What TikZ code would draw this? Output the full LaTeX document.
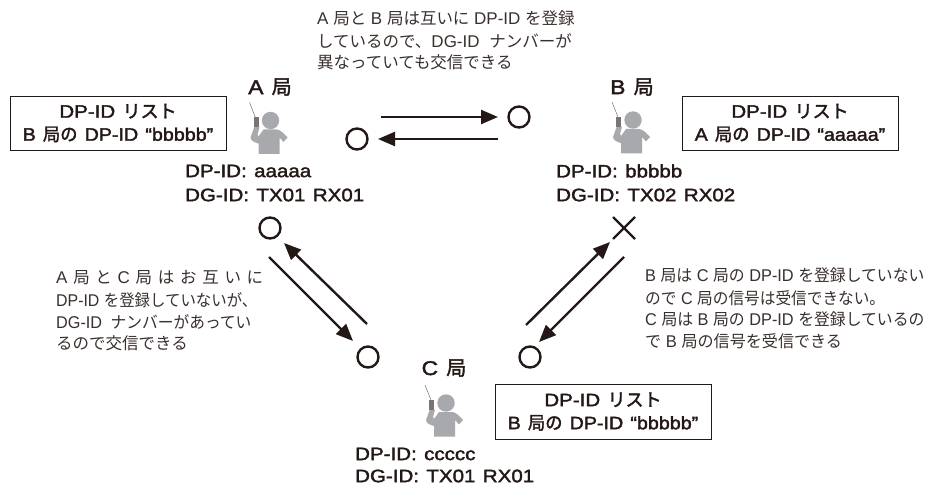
\documentclass[tikz,border=0pt]{standalone}
\usepackage{graphicx}
\usepackage{fontspec}
\setmainfont[WordSpace=1.0]{Liberation Sans}
\newfontfamily\smallcjk[Scale=0.97]{Noto Sans CJK JP}
\newfontfamily\boldcjk[FakeBold=2]{Noto Sans CJK JP}
\newfontfamily\boldlat[FakeBold=2,FakeStretch=1.14,WordSpace=1.3]{Liberation Sans}
\newcommand\J[1]{{\jfont #1}}
\newcommand\hsc[2]{\scalebox{#1}[1]{#2}}
\let\jfont\smallcjk
\usetikzlibrary{arrows.meta}
\definecolor{ink}{HTML}{231815}
\definecolor{figgray}{HTML}{A7A9AC}
\tikzset{
 x=1pt,y=-1pt,
 small/.style={anchor=west,inner sep=0pt,font=\let\jfont\smallcjk\fontsize{17}{17}\selectfont,text=ink!90},
 lab/.style={anchor=west,inner sep=0pt,font=\let\jfont\boldcjk\boldlat\fontsize{18}{18}\selectfont,text=ink},
 head/.style={anchor=center,inner sep=0pt,font=\let\jfont\boldcjk\boldlat\fontsize{20}{20}\selectfont,text=ink},
 listbox/.style={draw=ink,line width=0.8pt,inner sep=0pt,align=center,font=\let\jfont\boldcjk\boldlat\fontsize{18}{23}\selectfont,text=ink,minimum height=54pt,minimum width=216pt},
 okmark/.style={circle,draw=ink,line width=2.4pt,inner sep=0pt,minimum size=21pt},
 conn/.style={draw=ink,line width=2.4pt,-{Triangle[length=17pt,width=14pt]}},
 person/.pic={
  \fill[figgray] (0,0) circle (8.7);
  \fill[figgray] (-7,9) -- (6,9) .. controls (10,9) and (13,13) .. (17,17) -- (13,21.5) -- (9,17) -- (9,33.5) -- (-12,33.5) -- (-12,23) .. controls (-16,22) and (-20,20) .. (-20,17) -- (-16,6) -- (-11,7) -- (-13,14) -- (-12,16) -- cycle;
  \fill[ink!60] (-17,-3) rectangle (-12,7);
  \draw[ink!60,line width=0.5pt] (-21,-18) -- (-15,-3);
 }
}
\begin{document}
\begin{tikzpicture}
\useasboundingbox (0,0) rectangle (934,486);
% top text
\node[small] (t1) at (317,18.5) {A \J{局と} B \J{局は互いに} DP-ID \J{を登録}};
\node[small] (t2) at (317,40.5) {\J{しているので、}DG-ID\hspace{5pt} \J{ナンバーが}};
\node[small] (t3) at (317,62) {\J{異なっていても交信できる}};
% stations
\node[head] (ha) at (270,87) {A \J{局}};
\node[head] (hb) at (632,87) {B \J{局}};
\node[head] (hc) at (444,368) {C \J{局}};
\pic at (270.5,120.5) {person};
\pic at (633,120) {person};
\pic at (446,403) {person};
% lists
\node[listbox] (la) at (118,123) {DP-ID \J{リスト}\\\hsc{0.96}{B \J{局の} DP-ID “bbbbb”}};
\node[listbox] (lb) at (790,123) {DP-ID \J{リスト}\\\hsc{0.96}{A \J{局の} DP-ID “aaaaa”}};
\node[listbox,minimum height=55pt] (lc) at (603,411.5) {DP-ID \J{リスト}\\\hsc{0.96}{B \J{局の} DP-ID “bbbbb”}};
% ids
\node[lab] (ia) at (185,171) {DP-ID: aaaaa};
\node[lab] (ga) at (185,195) {DG-ID: TX01 RX01};
\node[lab] (ib) at (556,171) {DP-ID: bbbbb};
\node[lab] (gb) at (556,195) {DG-ID: TX02 RX02};
\node[lab] (ic) at (355,454) {DP-ID: ccccc};
\node[lab] (gc) at (355,476) {DG-ID: TX01 RX01};
% marks
\node[okmark] (m1) at (519,117) {};
\node[okmark] (m2) at (357,139) {};
\node[okmark] (m3) at (270,228) {};
\node[okmark] (m4) at (368,357) {};
\node[okmark] (m5) at (530,357) {};
\draw[ink,line width=2.4pt] (613,217) -- (635,239) (635,217) -- (613,239);
% connectors
\coordinate (a1) at (381,117); \coordinate (a2) at (498,117);
\coordinate (b1) at (498,139); \coordinate (b2) at (378,139);
\coordinate (c1) at (367,324); \coordinate (c2) at (284,243);
\coordinate (d1) at (269,257); \coordinate (d2) at (353,341);
\coordinate (e1) at (526,325); \coordinate (e2) at (610,242);
\coordinate (f1) at (624,257); \coordinate (f2) at (539,342);
\draw[conn] (a1) -- (a2);
\draw[conn] (b1) -- (b2);
\draw[conn] (c1) -- (c2);
\draw[conn] (d1) -- (d2);
\draw[conn] (e1) -- (e2);
\draw[conn] (f1) -- (f2);
% notes
\node[small] (l1) at (56,278) {\makebox[207pt][s]{A\hfill\J{局}\hfill\J{と}\hfill C\hfill\J{局}\hfill\J{は}\hfill\J{お}\hfill\J{互}\hfill\J{い}\hfill\J{に}}};
\node[small] (l2) at (56,300) {\hsc{0.935}{DP-ID \J{を登録していないが、}}};
\node[small] (l3) at (56,322) {\hsc{0.955}{DG-ID\hspace{4pt} \J{ナンバーがあってい}}};
\node[small] (l4) at (56,343) {\J{るので交信できる}};
\node[small] (r1) at (645,275) {\hsc{0.96}{B \J{局は} C \J{局の} DP-ID \J{を登録していない}}};
\node[small] (r2) at (645,298) {\hsc{0.95}{\J{ので} C \J{局の信号は受信できない。}}};
\node[small] (r3) at (645,319) {\hsc{0.96}{C \J{局は} B \J{局の} DP-ID \J{を登録しているの}}};
\node[small] (r4) at (645,341) {\hsc{0.975}{\J{で} B \J{局の信号を受信できる}}};
\end{tikzpicture}
\end{document}
